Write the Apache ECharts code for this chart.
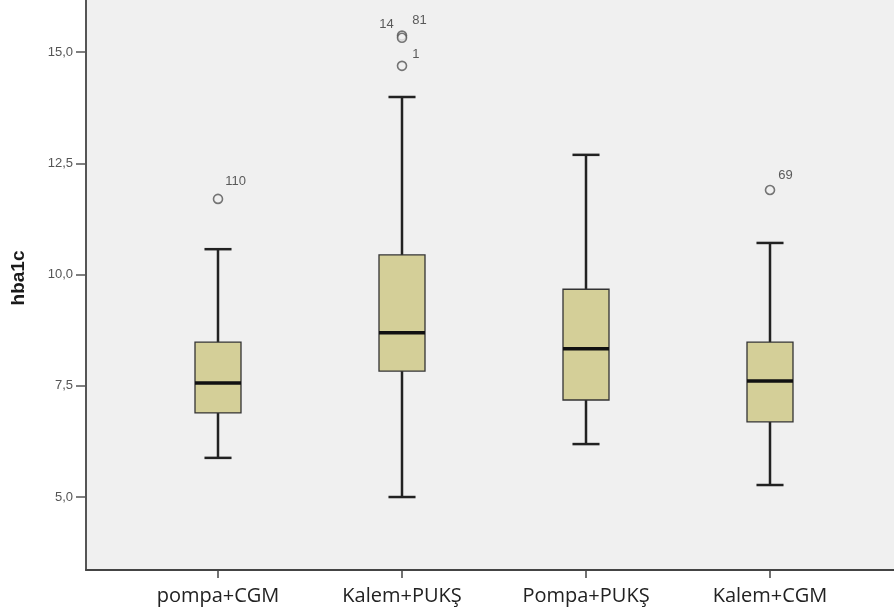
<!DOCTYPE html>
<html>
<head>
<meta charset="utf-8">
<script src="https://cdn.jsdelivr.net/npm/echarts@6/dist/echarts.min.js"></script>
<style>
html,body{margin:0;padding:0;background:#ffffff;}
#chart{width:894px;height:613px;}
</style>
</head>
<body>
<div id="chart"></div>
<script>
// ---- data ----
const categories = ['pompa+CGM', 'Kalem+PUKŞ', 'Pompa+PUKŞ', 'Kalem+CGM'];
const whiskerLow = [5.88, 5.00, 6.19, 5.27];
const q1Values   = [6.89, 7.83, 7.18, 6.69];
const medians    = [7.56, 8.69, 8.33, 7.61];
const q3Values   = [8.48, 10.44, 9.67, 8.48];
const whiskerHigh= [10.57, 13.99, 12.69, 10.71];
const outlierCategory = ['pompa+CGM', 'Kalem+PUKŞ', 'Kalem+PUKŞ', 'Kalem+PUKŞ', 'Kalem+CGM'];
const outlierValues   = [11.70, 15.37, 15.32, 14.69, 11.90];
const outlierLabels   = ['110', '14', '81', '1', '69'];
const yTicks = [5, 7.5, 10, 12.5, 15];
const yMin = 3.36, yMax = 16.17;

// label placement (style only)
const outlierLabelLayout = [
  {position:'right', distance:2, offset:[0,-17]},
  {position:'left',  distance:3, offset:[0,-11]},
  {position:'right', distance:5, offset:[0,-17]},
  {position:'right', distance:5, offset:[0,-11]},
  {position:'right', distance:3, offset:[0,-15]}
];

const boxData = categories.map((c, i) => [i, whiskerLow[i], q1Values[i], medians[i], q3Values[i], whiskerHigh[i]]);
const outlierData = outlierValues.map((v, i) => ({
  value: [outlierCategory[i], v],
  label: Object.assign({show:true, formatter: outlierLabels[i]}, outlierLabelLayout[i])
}));

const chart = echarts.init(document.getElementById('chart'), null, {renderer:'canvas'});
const option = {
  backgroundColor: '#ffffff',
  animation: false,
  grid: [
    {left:126, right:32, top:0, bottom:43, containLabel:false},
    {left:86, right:0, top:0, bottom:43, show:true, backgroundColor:'#f0f0f0', borderWidth:0, z:-1}
  ],
  xAxis: [
    {
      type:'category', gridIndex:0, data:categories, boundaryGap:true,
      axisLine:{show:false},
      axisTick:{show:true, alignWithLabel:true, length:8, lineStyle:{color:'#444', width:1.5}},
      axisLabel:{fontFamily:'Open Sans', fontSize:20, color:'#222', margin:16},
      splitLine:{show:false}
    },
    {
      type:'value', gridIndex:1, min:0, max:1,
      axisLine:{show:true, onZero:false, lineStyle:{color:'#444', width:2}},
      axisTick:{show:false}, axisLabel:{show:false}, splitLine:{show:false}
    }
  ],
  yAxis: [
    {type:'value', gridIndex:0, min:yMin, max:yMax, show:false, splitLine:{show:false}},
    {
      type:'value', gridIndex:1, min:yMin, max:yMax,
      name:'hba1c', nameLocation:'middle', nameGap:58, nameRotate:90,
      nameTextStyle:{fontFamily:'Liberation Sans', fontWeight:'bold', fontSize:19, color:'#1a1a1a', padding:[0,0,0,14]},
      axisLine:{show:true, onZero:false, lineStyle:{color:'#555', width:2}},
      axisTick:{show:true, length:10, customValues:yTicks, lineStyle:{color:'#555', width:1.5}},
      axisLabel:{customValues:yTicks, margin:13, fontFamily:'Liberation Sans', fontSize:13, color:'#555',
        formatter: v => Number(v).toFixed(1).replace('.', ',')},
      splitLine:{show:false}
    }
  ],
  series: [
    {
      type:'custom', xAxisIndex:0, yAxisIndex:0, z:2,
      encode:{x:0, y:[1,2,3,4,5]},
      data: boxData,
      renderItem: function(params, api){
        const idx = api.value(0);
        const band = api.size([1,0])[0];
        const bw = band * 0.25, cw = band * 0.147;
        const pLow = api.coord([idx, api.value(1)]);
        const pQ1 = api.coord([idx, api.value(2)]);
        const pMed = api.coord([idx, api.value(3)]);
        const pQ3 = api.coord([idx, api.value(4)]);
        const pHigh = api.coord([idx, api.value(5)]);
        const cx = pQ1[0];
        const wStyle = {stroke:'#222', lineWidth:2.5};
        return {
          type:'group',
          children:[
            {type:'line', shape:{x1:cx, y1:pLow[1], x2:cx, y2:pQ1[1]}, style:wStyle},
            {type:'line', shape:{x1:cx, y1:pQ3[1], x2:cx, y2:pHigh[1]}, style:wStyle},
            {type:'line', shape:{x1:cx-cw/2, y1:pLow[1], x2:cx+cw/2, y2:pLow[1]}, style:wStyle},
            {type:'line', shape:{x1:cx-cw/2, y1:pHigh[1], x2:cx+cw/2, y2:pHigh[1]}, style:wStyle},
            {type:'rect', shape:{x:cx-bw/2, y:pQ3[1], width:bw, height:pQ1[1]-pQ3[1]},
              style:{fill:'#d4cf98', stroke:'#333', lineWidth:1.3}},
            {type:'line', shape:{x1:cx-bw/2, y1:pMed[1], x2:cx+bw/2, y2:pMed[1]}, style:{stroke:'#111', lineWidth:3.5}}
          ]
        };
      }
    },
    {
      type:'scatter', xAxisIndex:0, yAxisIndex:0, z:3,
      symbol:'circle', symbolSize:9,
      itemStyle:{color:'#f0f0f0', borderColor:'#555', borderWidth:1.6},
      label:{fontFamily:'Liberation Sans', fontSize:13, color:'#333'},
      data: outlierData
    }
  ]
};
chart.setOption(option);
</script>
</body>
</html>
